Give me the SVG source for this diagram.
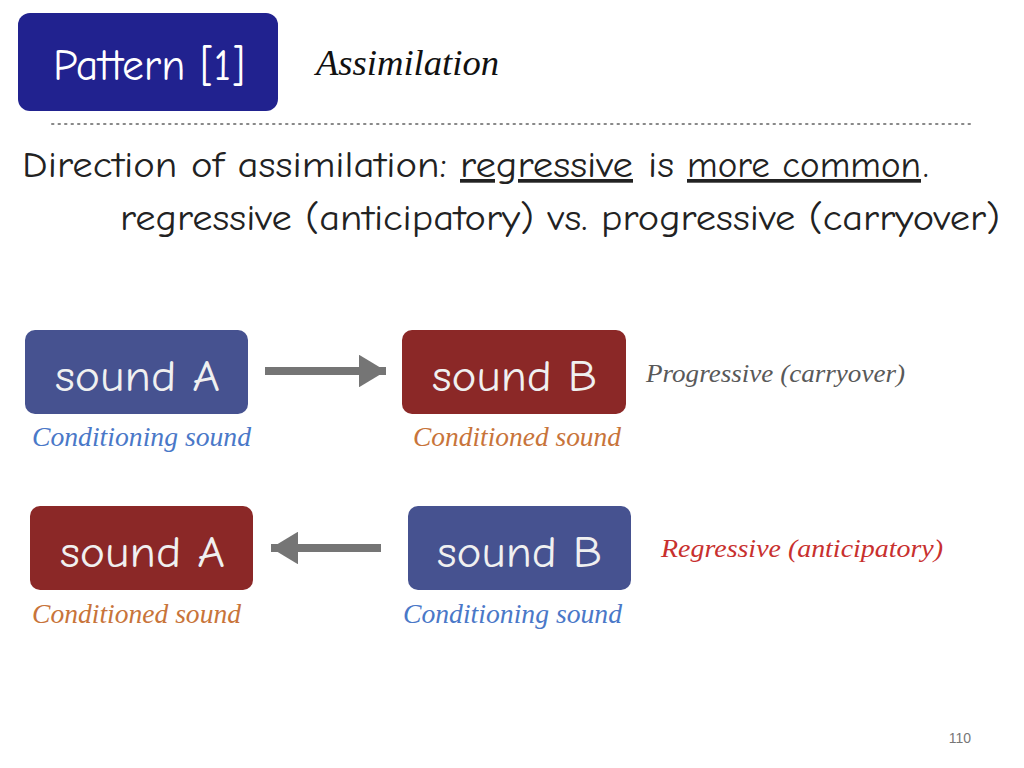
<svg xmlns="http://www.w3.org/2000/svg" width="1024" height="768" viewBox="0 0 1024 768">
  <style>
    .hand { font-family: "Comic Neue", "Noto Sans", "DejaVu Sans", sans-serif; }
    .body { font-family: "Comic Neue", "Noto Sans", "DejaVu Sans", sans-serif; fill: #222; }
    .it { font-family: "Liberation Serif", "DejaVu Serif", serif; font-style: italic; }
    .box-text { font-family: "Comic Neue", "Noto Sans", "DejaVu Sans", sans-serif; font-size: 45px; fill: #f0f0f0; }
    .blue { fill: #465290; }
    .red { fill: #8b2827; }
    .conn { stroke: #757575; stroke-width: 8; fill: none; }
    .lbl-blue { fill: #4a78c8; }
    .lbl-orange { fill: #c8743a; }
  </style>
  <defs>
    <marker id="head" viewBox="0 0 10 10" refX="10" refY="5" markerWidth="3.4" markerHeight="4.1" orient="auto" markerUnits="strokeWidth" preserveAspectRatio="none">
      <path d="M0,0 L10,5 L0,10 Z" fill="#757575"/>
    </marker>
  </defs>

  <rect width="1024" height="768" fill="#ffffff"/>

  <!-- heading -->
  <g id="title">
    <rect x="18" y="13" width="260" height="98" rx="12" fill="#21228f"/>
    <text x="53" y="80" class="hand" font-size="44" fill="#ffffff" textLength="192" lengthAdjust="spacingAndGlyphs">Pattern [1]</text>
  </g>
  <text x="316" y="75" class="it" font-size="35" fill="#111" textLength="183" lengthAdjust="spacingAndGlyphs">Assimilation</text>
  <line x1="52" y1="124" x2="975" y2="124" stroke="#888" stroke-width="2" stroke-dasharray="1.5 5" stroke-linecap="round"/>

  <!-- intro text -->
  <g class="body" font-size="37">
    <text x="22" y="177" textLength="425" lengthAdjust="spacingAndGlyphs">Direction of assimilation:</text>
    <text x="460" y="177" textLength="173" lengthAdjust="spacingAndGlyphs" text-decoration="underline">regressive</text>
    <text x="648" y="177" textLength="26" lengthAdjust="spacingAndGlyphs">is</text>
    <text x="687" y="177" textLength="234" lengthAdjust="spacingAndGlyphs" text-decoration="underline">more common</text>
    <text x="923" y="177">.</text>
    <text x="120" y="230" font-size="36" textLength="880" lengthAdjust="spacingAndGlyphs">regressive (anticipatory) vs. progressive (carryover)</text>
  </g>

  <!-- connectors -->
  <g id="connectors">
    <line class="conn" x1="265" y1="371" x2="386" y2="371" marker-end="url(#head)"/>
    <line class="conn" x1="381" y1="548" x2="271" y2="548" marker-end="url(#head)"/>
  </g>

  <!-- progressive row -->
  <g id="p-soundA">
    <rect x="25" y="330" width="223" height="84" rx="10" class="blue"/>
    <text x="55" y="391" class="box-text" textLength="165" lengthAdjust="spacingAndGlyphs">sound A</text>
  </g>
  <g id="p-soundB">
    <rect x="402" y="330" width="224" height="84" rx="10" class="red"/>
    <text x="432" y="391" class="box-text" textLength="165" lengthAdjust="spacingAndGlyphs">sound B</text>
  </g>
  <text x="32" y="446" class="it lbl-blue" font-size="27" textLength="219" lengthAdjust="spacingAndGlyphs">Conditioning sound</text>
  <text x="413" y="446" class="it lbl-orange" font-size="27" textLength="208" lengthAdjust="spacingAndGlyphs">Conditioned sound</text>
  <text x="646" y="382" class="it" font-size="26" fill="#595959" textLength="259" lengthAdjust="spacingAndGlyphs">Progressive (carryover)</text>

  <!-- regressive row -->
  <g id="r-soundA">
    <rect x="30" y="506" width="223" height="84" rx="10" class="red"/>
    <text x="60" y="567" class="box-text" textLength="165" lengthAdjust="spacingAndGlyphs">sound A</text>
  </g>
  <g id="r-soundB">
    <rect x="408" y="506" width="223" height="84" rx="10" class="blue"/>
    <text x="437" y="567" class="box-text" textLength="165" lengthAdjust="spacingAndGlyphs">sound B</text>
  </g>
  <text x="32" y="623" class="it lbl-orange" font-size="27" textLength="209" lengthAdjust="spacingAndGlyphs">Conditioned sound</text>
  <text x="403" y="623" class="it lbl-blue" font-size="27" textLength="219" lengthAdjust="spacingAndGlyphs">Conditioning sound</text>
  <text x="661" y="557" class="it" font-size="26" fill="#c8302e" textLength="282" lengthAdjust="spacingAndGlyphs">Regressive (anticipatory)</text>

  <!-- page number -->
  <text x="960" y="743" font-family="Liberation Sans, sans-serif" font-size="14" fill="#777" text-anchor="middle">110</text>
</svg>
